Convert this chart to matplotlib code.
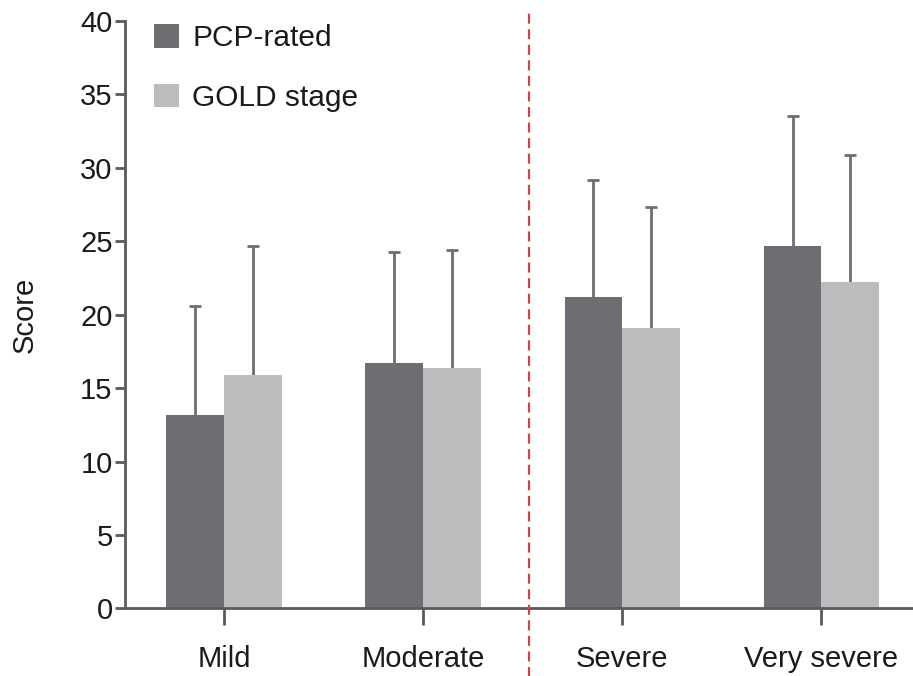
import matplotlib.pyplot as plt
import numpy as np

plt.rcParams['font.family'] = ['Liberation Sans', 'DejaVu Sans']

categories = ["Mild", "Moderate", "Severe", "Very severe"]
pcp_mean = [13.2, 16.7, 21.2, 24.7]
pcp_sd = [7.4, 7.6, 8.0, 8.8]
gold_mean = [15.9, 16.4, 19.1, 22.2]
gold_sd = [8.8, 8.0, 8.2, 8.7]

dark = "#6d6e71"
light = "#bbbcbe"
axis_col = "#5a5a5a"
text_col = "#1a1a1a"

fig = plt.figure(figsize=(9.13, 6.76), dpi=100)
ax = fig.add_axes([0.137, 0.100, 0.863, 0.869])

x = np.arange(len(categories))
w = 0.29

ax.bar(x - w / 2, pcp_mean, w, color=dark, label="PCP-rated", zorder=2)
ax.bar(x + w / 2, gold_mean, w, color=light, label="GOLD stage", zorder=2)

# upper-only SD whiskers: hide the lower cap that errorbar puts at the bar top
for pos, mean, sd in [(x - w / 2, pcp_mean, pcp_sd), (x + w / 2, gold_mean, gold_sd)]:
    eb = ax.errorbar(pos, mean, yerr=[np.zeros(len(sd)), sd], fmt="none",
                     ecolor=dark, elinewidth=2, capsize=4, capthick=2, zorder=1)
    eb[1][0].set_visible(False)

# divider between the mild/moderate and severe groups
ax.plot([1.533, 1.533], [-4.7, 40.8], color="#c8474a", lw=1.6,
        dashes=(4.5, 2.5), clip_on=False, zorder=3)

ax.set_xlim(-0.497, 3.46)
ax.set_ylim(0, 40)
ax.set_yticks(range(0, 41, 5))
ax.set_xticks(x)
ax.set_xticklabels(categories)

for s in ["top", "right"]:
    ax.spines[s].set_visible(False)
for s in ["left", "bottom"]:
    ax.spines[s].set_color(axis_col)
    ax.spines[s].set_linewidth(2)

ax.tick_params(axis="y", length=7, width=2, color=axis_col, labelsize=21,
               pad=2, labelcolor=text_col)
ax.tick_params(axis="x", length=12, width=2, color=axis_col, labelsize=21,
               pad=14, labelcolor=text_col)

ax.set_ylabel("Score", fontsize=21, labelpad=30, color=text_col)

leg = ax.legend(loc="upper left", bbox_to_anchor=(0.003, 1.04), frameon=False,
                fontsize=21.5, handlelength=0.82, handleheight=0.82,
                handletextpad=0.45, labelspacing=1.05)
for t in leg.get_texts():
    t.set_color(text_col)

fig.savefig("out.png", dpi=100, facecolor="white")
